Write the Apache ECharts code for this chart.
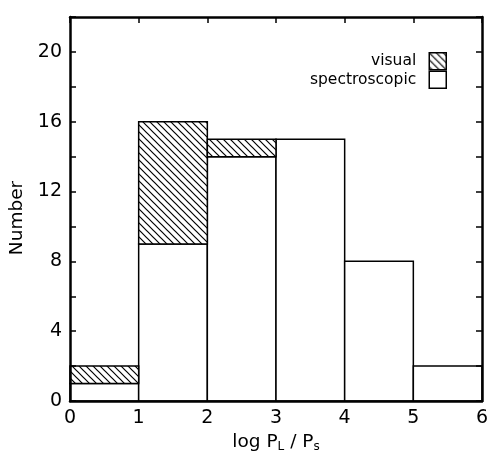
<!DOCTYPE html>
<html>
<head>
<meta charset="utf-8">
<script src="https://cdn.jsdelivr.net/npm/echarts@6/dist/echarts.min.js"></script>
<style>
html, body { margin: 0; padding: 0; background: #fff; }
#chart { width: 487px; height: 453px; }
</style>
</head>
<body>
<div id="chart"></div>
<script>
// bin left edges of log PL/Ps, each bin is 1 wide
var binStart = [0, 1, 2, 3, 4, 5];
var spectroscopic = [1, 9, 14, 15, 8, 2];
var visual = [1, 7, 1, 0, 0, 0];
var xTicks = [0, 1, 2, 3, 4, 5, 6];

// hatch pattern "\\\"
function makeHatch() {
    var s = 7;
    var c = document.createElement('canvas');
    c.width = s; c.height = s;
    var ctx = c.getContext('2d');
    ctx.fillStyle = '#fff';
    ctx.fillRect(0, 0, s, s);
    ctx.strokeStyle = '#000';
    ctx.lineWidth = 1.2;
    ctx.beginPath();
    ctx.moveTo(-1, -1); ctx.lineTo(s + 1, s + 1);
    ctx.moveTo(-1, s - 1); ctx.lineTo(1, s + 1);
    ctx.moveTo(s - 1, -1); ctx.lineTo(s + 1, 1);
    ctx.stroke();
    return c;
}
var hatch = { image: makeHatch(), repeat: 'repeat' };

var specData = binStart.map(function (b, i) { return [b, b + 1, 0, spectroscopic[i]]; });
var visData = binStart.map(function (b, i) { return [b, b + 1, spectroscopic[i], spectroscopic[i] + visual[i]]; });

function drawBin(fill) {
    return function (params, api) {
        var lo = api.value(2), hi = api.value(3);
        if (hi <= lo) return;
        var p0 = api.coord([api.value(0), hi]);
        var p1 = api.coord([api.value(1), lo]);
        return {
            type: 'rect',
            shape: { x: p0[0], y: p0[1], width: p1[0] - p0[0], height: p1[1] - p0[1] },
            style: { fill: fill, stroke: '#000', lineWidth: 1.5 }
        };
    };
}

var font = 'DejaVu Sans';
var frameLine = { onZero: false, lineStyle: { color: '#000', width: 2.5 } };
var chart = echarts.init(document.getElementById('chart'));
chart.setOption({
    animation: false,
    backgroundColor: '#fff',
    grid: { left: 70, right: 5, top: 17, bottom: 52, outerBoundsMode: 'none', containLabel: false },
    legend: {
        orient: 'vertical',
        right: 40,
        top: 52,
        padding: 0,
        align: 'right',
        icon: 'rect',
        itemWidth: 17,
        itemHeight: 17,
        itemGap: 0,
        data: ['visual', 'spectroscopic'],
        itemStyle: { borderWidth: 1.5 },
        textStyle: { fontFamily: font, fontSize: 15.5, color: '#000', padding: [0, 8, 0, 0] }
    },
    xAxis: [
        {
            type: 'value',
            position: 'bottom',
            min: 0, max: 6, interval: 1,
            z: 10,
            axisLine: frameLine,
            axisTick: { show: false },
            splitLine: { show: false },
            axisLabel: {
                color: '#000', fontFamily: font, fontSize: 19, margin: 8,
                formatter: function (v) { return xTicks.indexOf(v) >= 0 ? String(v) : ''; }
            },
            name: 'log P{sub|L} / P{sub|s}',
            nameLocation: 'middle',
            nameGap: 30,
            nameTextStyle: {
                color: '#000', fontFamily: font, fontSize: 18.5,
                rich: { sub: { fontFamily: font, fontSize: 12, color: '#000', padding: [9, 0, 0, 0] } }
            }
        },
        {
            type: 'value',
            position: 'top',
            min: 0, max: 6, interval: 1,
            z: 10,
            axisLine: frameLine,
            axisTick: { inside: true, length: 6, lineStyle: { color: '#000', width: 1.5 } },
            axisLabel: { show: false },
            splitLine: { show: false }
        }
    ],
    yAxis: [
        {
            type: 'value',
            position: 'left',
            min: 0, max: 22, interval: 2,
            z: 10,
            axisLine: { show: true, onZero: false, lineStyle: { color: '#000', width: 2.5 } },
            axisTick: { show: true, inside: true, length: 6, lineStyle: { color: '#000', width: 1.5 } },
            splitLine: { show: false },
            axisLabel: {
                color: '#000', fontFamily: font, fontSize: 19, margin: 8,
                formatter: function (v) { return v % 4 === 0 && v <= 20 ? String(v) : ''; }
            },
            name: 'Number',
            nameLocation: 'middle',
            nameGap: 43,
            nameTextStyle: { color: '#000', fontFamily: font, fontSize: 18.5, padding: [0, 18, 0, 0] }
        },
        {
            type: 'value',
            position: 'right',
            min: 0, max: 22, interval: 2,
            z: 10,
            axisLine: { show: true, onZero: false, lineStyle: { color: '#000', width: 2.5 } },
            axisTick: { show: true, inside: true, length: 6, lineStyle: { color: '#000', width: 1.5 } },
            splitLine: { show: false },
            axisLabel: { show: false }
        }
    ],
    series: [
        {
            name: 'spectroscopic',
            type: 'custom',
            renderItem: drawBin('#fff'),
            itemStyle: { color: '#fff', borderColor: '#000', borderWidth: 1.5 },
            encode: { x: [0, 1], y: [2, 3] },
            data: specData
        },
        {
            name: 'visual',
            type: 'custom',
            renderItem: drawBin(hatch),
            itemStyle: { color: hatch, borderColor: '#000', borderWidth: 1.5 },
            encode: { x: [0, 1], y: [2, 3] },
            data: visData
        }
    ]
});
</script>
</body>
</html>
